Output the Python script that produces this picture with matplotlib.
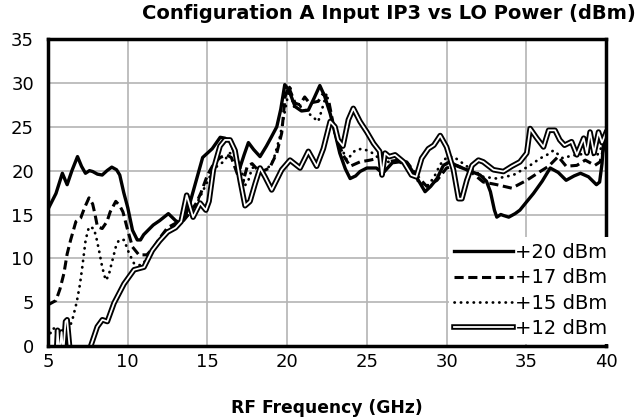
import matplotlib
matplotlib.use("Agg")
import matplotlib.pyplot as plt
import matplotlib.patheffects as pe

# 读图得到的数据 (GHz, dBm)
freq_20 = [5.0, 5.5, 5.9, 6.2, 6.5, 6.85, 7.1, 7.35, 7.6, 7.8, 8.1, 8.4, 8.7, 9.0, 9.3, 9.5,
           9.75, 10.0, 10.3, 10.6, 10.8, 11.0, 11.6, 12.0, 12.55, 13.0, 13.3, 13.6, 13.9, 14.3,
           14.7, 15.3, 15.8, 16.1, 16.45, 16.8, 17.05, 17.3, 17.57, 17.9, 18.3, 18.7, 19.0,
           19.35, 19.6, 19.85, 20.1, 20.5, 20.9, 21.33, 21.7, 22.05, 22.35, 22.7, 23.0, 23.3,
           23.65, 23.95, 24.3, 24.57, 25.0, 25.6, 26.0, 26.6, 27.0, 27.5, 28.1, 28.65, 29.0,
           29.4, 29.8, 30.2, 30.7, 31.27, 32.1, 32.5, 32.75, 33.0, 33.15, 33.4, 33.55, 33.9,
           34.3, 34.6, 35.0, 35.45, 36.0, 36.5, 37.0, 37.5, 38.0, 38.4, 38.9, 39.4, 39.6,
           39.75, 39.85, 40.0]
ip3_20 = [15.6, 17.4, 19.7, 18.4, 20.0, 21.6, 20.5, 19.7, 20.0, 19.9, 19.6, 19.5, 20.0, 20.4,
          20.1, 19.5, 17.5, 15.8, 13.2, 12.1, 12.1, 12.7, 13.8, 14.3, 15.1, 14.3, 14.0, 14.8,
          16.3, 18.9, 21.5, 22.5, 23.8, 23.7, 23.3, 21.5, 20.4, 21.8, 23.2, 22.4, 21.6, 22.8,
          23.8, 25.0, 27.0, 29.8, 29.2, 27.3, 26.8, 26.9, 28.3, 29.7, 28.5, 26.5, 24.3, 22.0,
          20.2, 19.1, 19.4, 19.9, 20.3, 20.3, 19.7, 20.9, 21.0, 20.9, 19.3, 17.6, 18.2, 19.1,
          20.6, 21.0, 20.5, 20.1, 19.5, 18.8, 17.6, 15.5, 14.7, 15.0, 14.9, 14.7, 15.1, 15.5,
          16.4, 17.4, 18.8, 20.3, 19.8, 18.9, 19.4, 19.7, 19.3, 18.4, 18.7, 20.8, 23.3, 24.2]

freq_17 = [5.0, 5.5, 5.75, 6.0, 6.2, 6.42, 6.75, 7.05, 7.3, 7.57, 7.8, 7.95, 8.1, 8.4, 8.7,
           8.9, 9.25, 9.5, 9.7, 10.0, 10.3, 10.7, 11.2, 11.65, 12.0, 12.5, 13.0, 13.5, 13.9,
           14.3, 14.6, 15.0, 15.4, 15.8, 16.2, 16.5, 16.9, 17.2, 17.5, 17.8, 18.3, 18.9, 19.35,
           19.66, 19.87, 20.08, 20.5, 20.8, 21.1, 21.4, 21.95, 22.27, 22.6, 23.0, 23.5, 23.95,
           24.57, 25.2, 25.7, 26.25, 26.98, 27.5, 28.3, 28.76, 29.4, 30.0, 30.64, 31.5, 32.3,
           33.15, 34.09, 35.03, 35.87, 36.4, 37.0, 37.5, 38.17, 38.7, 39.3, 39.63, 39.85, 40.0]
ip3_17 = [4.7, 5.2, 6.5, 8.3, 10.5, 12.1, 14.2, 14.6, 15.8, 16.9, 16.2, 15.0, 13.6, 13.4, 14.2,
          15.3, 16.5, 16.0, 15.3, 13.2, 11.3, 10.4, 10.4, 11.3, 12.3, 13.5, 14.0, 14.3, 15.2,
          16.3, 17.5, 19.5, 20.8, 21.5, 21.8, 21.5, 19.5, 18.5, 20.5, 20.8, 19.8, 20.3, 22.0,
          24.3, 28.4, 29.6, 27.7, 27.5, 28.4, 27.7, 27.9, 28.8, 28.0, 24.3, 21.8, 20.5, 21.0,
          21.2, 21.4, 21.0, 21.2, 21.0, 19.1, 18.2, 18.9, 20.3, 20.6, 19.9, 18.7, 18.4, 18.0,
          18.9, 19.9, 20.5, 21.6, 20.5, 20.6, 21.2, 20.6, 21.0, 22.5, 23.0]

freq_15 = [5.0, 5.27, 5.45, 5.6, 5.9, 6.2, 6.5, 6.8, 7.0, 7.15, 7.36, 7.57, 7.88, 8.05, 8.2,
           8.4, 8.62, 8.8, 8.93, 9.1, 9.25, 9.45, 9.77, 10.08, 10.4, 10.81, 11.1, 11.44, 12.0,
           12.5, 13.0, 13.5, 14.0, 14.4, 14.8, 15.2, 15.6, 16.0, 16.4, 16.7, 17.0, 17.15,
           17.35, 17.57, 17.8, 18.1, 18.4, 18.72, 19.14, 19.55, 19.87, 20.18, 20.39, 20.9,
           21.2, 21.55, 21.95, 22.17, 22.48, 22.8, 23.2, 23.74, 24.26, 24.68, 25.2, 25.7,
           26.2, 26.8, 27.4, 27.9, 28.3, 28.76, 29.2, 29.6, 30.0, 30.43, 31.27, 32.3, 33.15,
           34.19, 35.24, 35.87, 36.3, 36.7, 37.3, 37.8, 38.17, 39.0, 39.4, 39.7, 40.0]
ip3_15 = [0.8, 2.0, 2.0, 1.8, 1.3, 1.6, 2.8, 5.0, 7.0, 9.0, 12.1, 13.6, 13.4, 12.2, 10.9,
          9.0, 7.5, 8.0, 9.0, 10.2, 11.3, 12.1, 12.1, 10.6, 9.4, 9.2, 9.7, 10.4, 12.0,
          13.2, 13.8, 14.5, 15.3, 16.5, 18.0, 19.5, 20.5, 21.0, 22.0, 21.8, 20.5, 20.0,
          18.3, 18.9, 20.3, 20.5, 20.0, 20.1, 21.2, 23.9, 26.9, 29.8, 27.3, 27.3,
          26.8, 26.2, 25.6, 26.9, 28.8, 25.8, 23.5, 21.2, 22.3, 22.5, 22.2, 21.5,
          21.0, 21.0, 20.8, 19.8, 18.5, 18.2, 19.2, 20.7, 21.5, 21.6, 20.5, 19.3, 19.1,
          19.5, 20.6, 21.4, 21.8, 22.3, 21.4, 21.7, 21.8, 22.0, 21.6, 22.6, 24.0]

freq_12 = [5.5, 5.6, 5.7, 5.85, 5.95, 6.1, 6.2, 6.35, 6.5, 7.3, 7.68, 8.09, 8.41, 8.72, 9.14,
           9.77, 10.4, 11.02, 11.54, 12.0, 12.5, 13.0, 13.35, 13.7, 14.1, 14.54, 14.9, 15.1,
           15.37, 15.79, 16.1, 16.42, 16.73, 17.05, 17.36, 17.67, 17.99, 18.3, 18.61, 19.03,
           19.66, 20.18, 20.81, 21.33, 21.85, 22.27, 22.7, 23.0, 23.2, 23.5, 23.84, 24.15,
           24.57, 25.0, 25.42, 25.8, 25.95, 26.14, 26.4, 26.77, 27.3, 27.8, 28.1, 28.44,
           28.86, 29.2, 29.6, 30.0, 30.43, 30.75, 30.96, 31.27, 31.6, 32.0, 32.3, 32.94,
           33.57, 34.09, 34.6, 35.03, 35.24, 35.66, 36.08, 36.4, 36.8, 37.1, 37.4, 37.84,
           38.17, 38.6, 38.8, 39.0, 39.25, 39.53, 39.75, 40.0]
ip3_12 = [-2.0, 1.8, -1.0, 1.6, -1.0, 2.8, 3.0, 0.0, -3.0, -3.0, 0.0, 2.2, 3.0, 2.8, 4.9,
          7.1, 8.7, 9.0, 10.9, 12.0, 13.0, 13.5, 14.2, 17.2, 14.7, 16.3, 15.5, 16.5,
          20.1, 22.8, 23.5, 23.5, 22.3, 18.9, 16.0, 16.5, 18.5, 20.3, 19.3, 17.8,
          20.1, 21.2, 20.3, 22.2, 20.5, 22.5, 25.6, 25.0, 23.5, 22.8, 25.8, 27.1,
          25.6, 24.4, 23.1, 22.2, 19.5, 22.0, 21.6, 21.8, 21.0, 19.5, 19.3, 21.4,
          22.5, 22.9, 24.0, 22.7, 20.1, 16.8, 16.8, 18.9, 20.6, 21.2, 21.0, 20.1,
          19.9, 20.5, 21.0, 22.0, 24.8, 23.7, 22.7, 24.6, 24.6, 23.5, 22.9, 23.3,
          21.8, 23.7, 22.0, 24.4, 22.0, 24.4, 23.2, 24.3]

x_ticks = [5, 10, 15, 20, 25, 30, 35, 40]
y_ticks = [0, 5, 10, 15, 20, 25, 30, 35]

fig = plt.figure(figsize=(6.41, 4.20), dpi=100)
ax = fig.add_axes([0.0749, 0.176, 0.8705, 0.731])

ax.plot(freq_20, ip3_20, color='black', lw=2.4, label='+20 dBm')
ax.plot(freq_17, ip3_17, color='black', lw=2.2, linestyle=(0, (3, 1.5)), label='+17 dBm')
ax.plot(freq_15, ip3_15, color='black', lw=2.0, linestyle=(0, (0.1, 2.2)),
        dash_capstyle='round', label='+15 dBm')
ax.plot(freq_12, ip3_12, color='white', lw=1.3, label='+12 dBm',
        path_effects=[pe.Stroke(linewidth=4.0, foreground='black'), pe.Normal()])

ax.set_xlim(5, 40)
ax.set_ylim(0, 35)
ax.set_xticks(x_ticks)
ax.set_yticks(y_ticks)
ax.tick_params(length=0, labelsize=13)
ax.tick_params(axis='x', pad=5)
ax.tick_params(axis='y', pad=10)
ax.grid(True, color='#b4b4b4', lw=1.2)
ax.set_axisbelow(True)
for s in ax.spines.values():
    s.set_linewidth(2.5)
    s.set_color('black')

leg = ax.legend(loc='lower right', bbox_to_anchor=(1.012, 0.008), fontsize=14,
                frameon=True, fancybox=False, framealpha=1, edgecolor='none',
                borderaxespad=0, borderpad=0.3, labelspacing=0.32,
                handlelength=3.0, handletextpad=0.1)
leg.get_frame().set_linewidth(0)

fig.text(0.607, 0.968, 'Configuration A Input IP3 vs LO Power (dBm)',
         ha='center', va='center', fontsize=14, fontweight='bold')
fig.text(0.51, 0.028, 'RF Frequency (GHz)', ha='center', va='center',
         fontsize=12.3, fontweight='bold')

fig.savefig('out.png', dpi=100)
